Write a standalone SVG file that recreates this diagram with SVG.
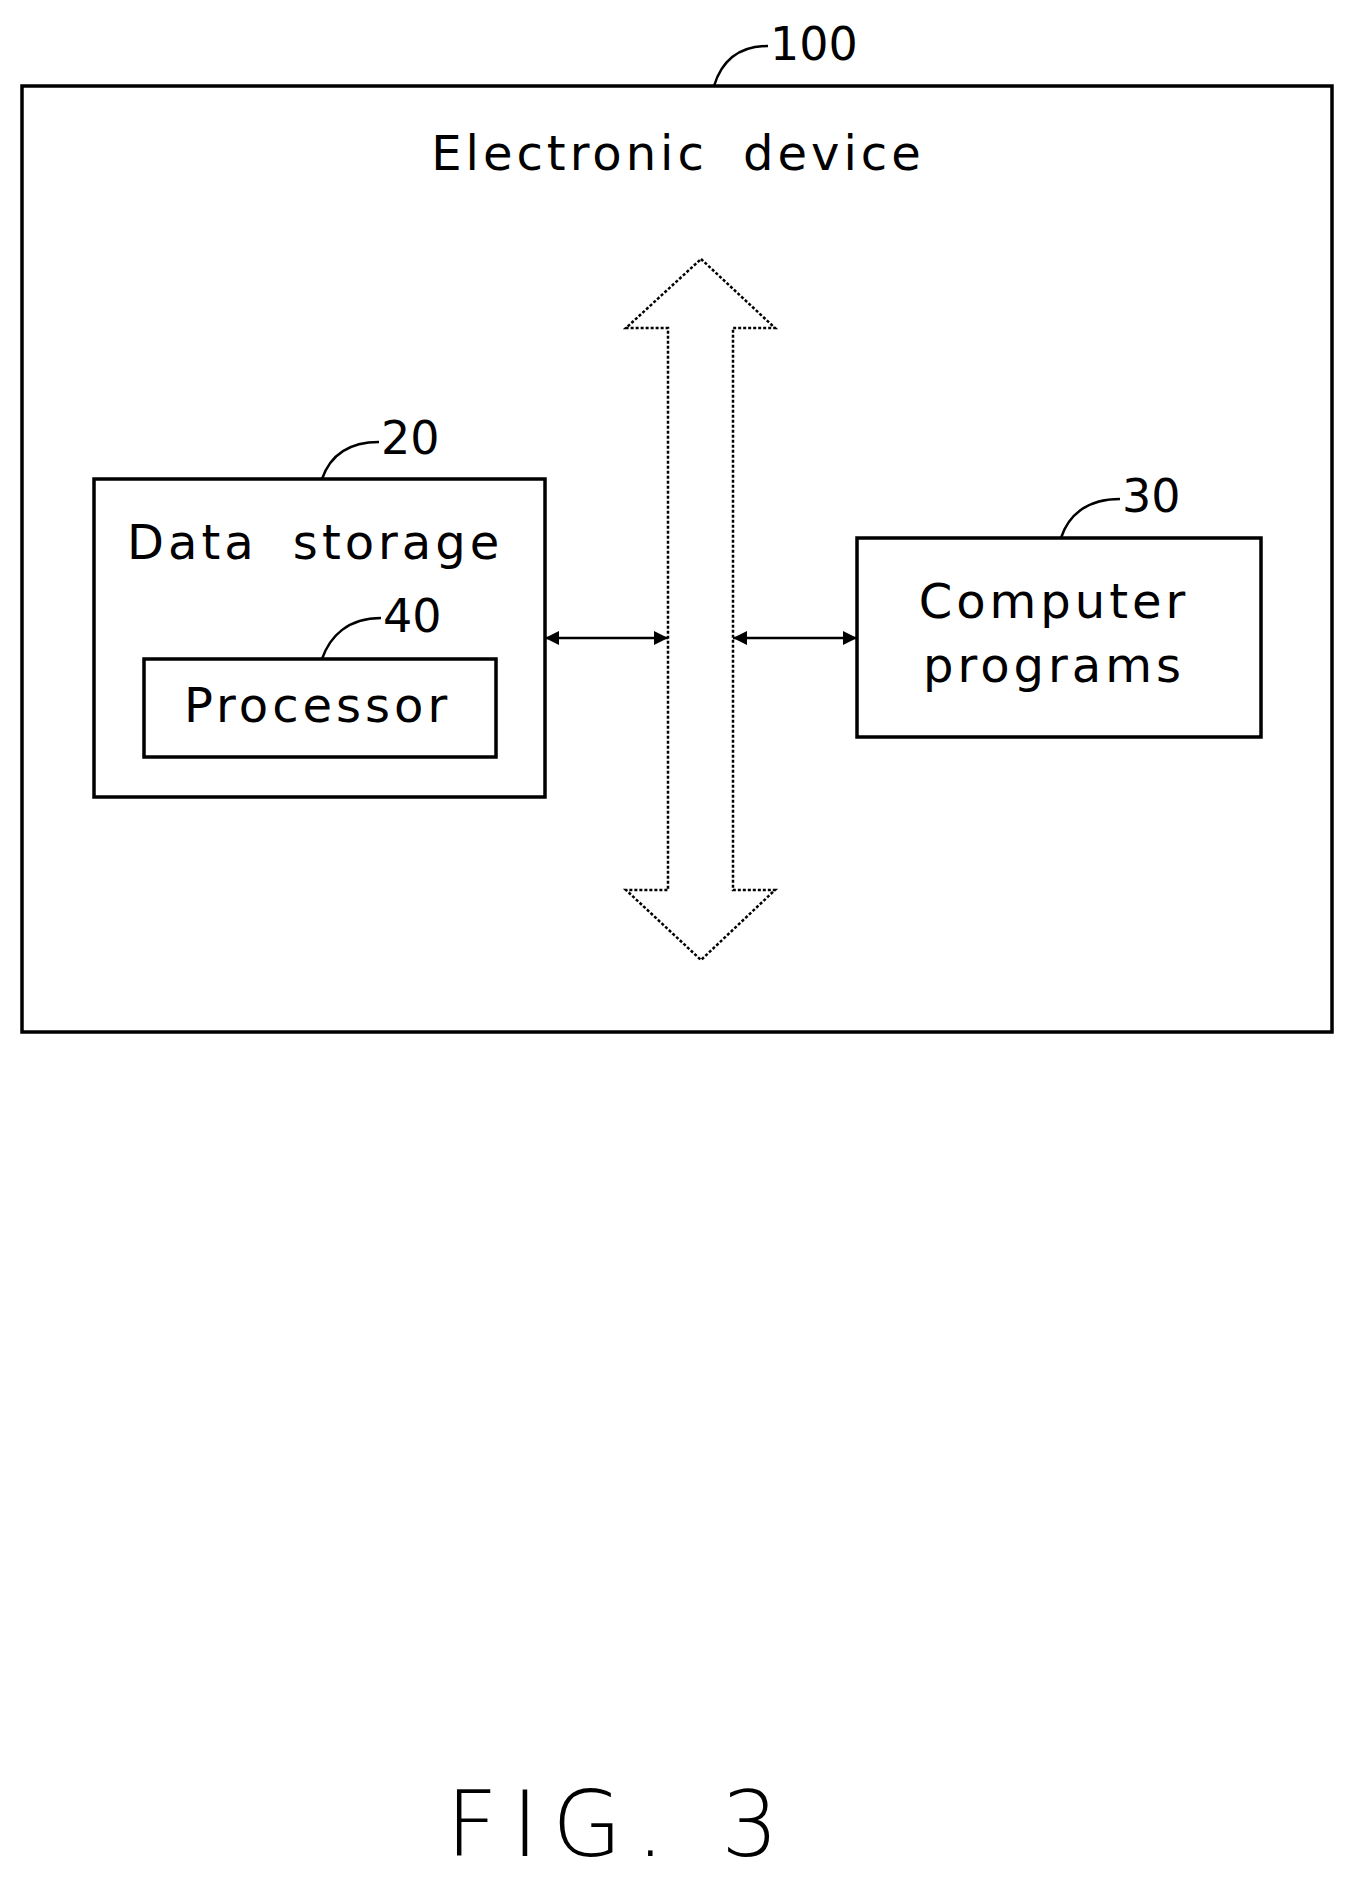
<svg xmlns="http://www.w3.org/2000/svg" width="1359" height="1887" viewBox="0 0 1359 1887">
<style>
.b{fill:none;stroke:#000;stroke-width:3.5}
.l{fill:none;stroke:#000;stroke-width:2.5}
text{font-family:"DejaVu Sans","Liberation Sans",sans-serif;fill:#000}
.t{font-size:48px;letter-spacing:4px;word-spacing:16px}
.n{font-size:46px}
</style>
<defs>
<marker id="ah" viewBox="0 0 10 10" refX="10" refY="5" markerWidth="24" markerHeight="14" markerUnits="userSpaceOnUse" orient="auto-start-reverse"><path d="M0,0 L10,5 L0,10 Z" fill="#000"/></marker>
</defs>
<rect width="1359" height="1887" fill="#fff"/>
<g id="device">
<rect class="b" x="22" y="86" width="1310" height="946"/>
<text class="t" x="678" y="170" text-anchor="middle">Electronic device</text>
<path class="l" d="M714,86 C722,60 740,46 768,46"/>
<text class="n" x="770" y="60">100</text>
</g>
<g id="bus">
<path class="l" stroke-dasharray="3,2" d="M701,259 L775,328 L733,328 L733,890 L775,890 L701,960 L626,890 L668,890 L668,328 L626,328 Z"/>
</g>
<g id="storage">
<rect class="b" x="94" y="479" width="451" height="318"/>
<text class="t" x="127" y="559">Data storage</text>
<path class="l" d="M322,479 C330,456 348,442 379,442"/>
<text class="n" x="381" y="454">20</text>
</g>
<g id="processor">
<rect class="b" x="144" y="659" width="352" height="98"/>
<text class="t" x="184" y="722">Processor</text>
<path class="l" d="M322,659 C330,636 348,618 381,618"/>
<text class="n" x="383" y="632">40</text>
</g>
<g id="programs">
<rect class="b" x="857" y="538" width="404" height="199"/>
<text class="t" x="1054" y="618" text-anchor="middle">Computer</text>
<text class="t" x="1054" y="682" text-anchor="middle">programs</text>
<path class="l" d="M1061,538 C1068,516 1086,499 1120,499"/>
<text class="n" x="1122" y="512">30</text>
</g>
<g id="connectors">
<line class="l" x1="545" y1="638" x2="668" y2="638" marker-start="url(#ah)" marker-end="url(#ah)"/>
<line class="l" x1="733" y1="638" x2="857" y2="638" marker-start="url(#ah)" marker-end="url(#ah)"/>
</g>
<text x="446" y="1856" style="font-size:90px;letter-spacing:14px;font-weight:200">FIG. 3</text>
</svg>
